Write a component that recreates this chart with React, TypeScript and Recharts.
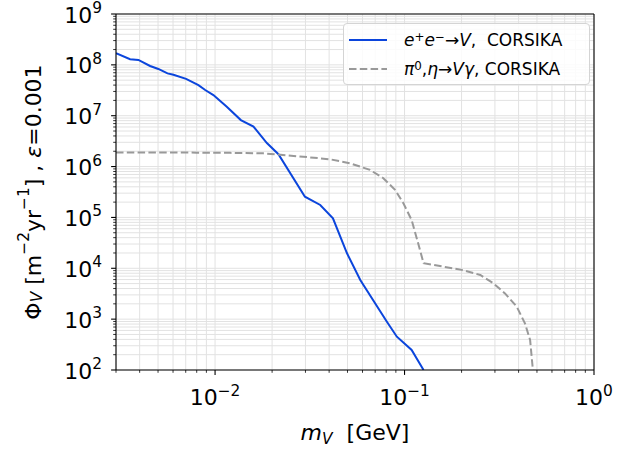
import { CartesianGrid, Line, LineChart, ReferenceLine, XAxis, YAxis } from "recharts";

// flux of dark vector V vs its mass, two CORSIKA production channels
document.body.style.margin = "0";

const eeMass = [
  0.003, 0.00356, 0.00394, 0.00454, 0.00502, 0.00561, 0.00603, 0.00703, 0.00817, 0.00887, 0.0098, 0.01153,
  0.01368, 0.01595, 0.01877, 0.0216, 0.0298, 0.0359, 0.0419, 0.0497, 0.0584, 0.0807, 0.0911, 0.109, 0.126,
];
const eeFlux = [
  1.69e8, 1.29e8, 1.25e8, 9.5e7, 8.3e7, 6.8e7, 6.4e7, 5.3e7, 4.0e7, 3.2e7, 2.55e7, 1.5e7, 8.2e6, 6.1e6, 2.9e6,
  1.75e6, 2.56e5, 1.76e5, 9.6e4, 1.97e4, 5.9e3, 890, 452, 248, 100,
];

const mesonMass = [
  0.003, 0.005, 0.008, 0.012, 0.018, 0.0292, 0.0405, 0.0516, 0.0657, 0.0773, 0.0891, 0.0986, 0.109, 0.118,
  0.126, 0.2, 0.251, 0.294, 0.339, 0.391, 0.432, 0.46, 0.475, 0.478,
];
const mesonFlux = [
  1.9e6, 1.9e6, 1.88e6, 1.86e6, 1.82e6, 1.56e6, 1.39e6, 1.16e6, 8.6e5, 5.9e5, 3.5e5, 1.9e5, 8.9e4, 3.1e4,
  1.26e4, 9.3e3, 7.4e3, 5.1e3, 3.2e3, 1.76e3, 828, 390, 107, 100,
];

const xDecades = [0.001, 0.01, 0.1];
const yDecades = [1e2, 1e3, 1e4, 1e5, 1e6, 1e7, 1e8];
const minorSteps = [1, 2, 3, 4, 5, 6, 7, 8, 9];

const xTicks = [
  ...xDecades.flatMap((d) => minorSteps.map((m) => Number((m * d).toPrecision(6)))).filter((v) => v >= 0.003),
  1,
];
const yTicks = [...yDecades.flatMap((d) => minorSteps.map((m) => Number((m * d).toPrecision(6)))), 1e9];

const eeData = eeMass.map((x, i) => ({ x, y: eeFlux[i] }));
const mesonData = mesonMass.map((x, i) => ({ x, y: mesonFlux[i] }));

const BLUE = "#0b45dc";
const GRAY = "#999999";
const FONT = "'DejaVu Sans', sans-serif";

function isMajor(v: number) {
  const l = Math.log10(v);
  return Math.abs(l - Math.round(l)) < 1e-6;
}

function expo(v: number) {
  const e = Math.round(Math.log10(v));
  return e < 0 ? `\u2212${-e}` : `${e}`;
}

function XTick(props: any) {
  const { x, y, payload } = props;
  const major = isMajor(payload.value);
  return (
    <g>
      <line x1={x} x2={x} y1={y} y2={y + (major ? 4.9 : 2.8)} stroke="#000" strokeWidth={major ? 1.1 : 0.8} />
      {major && (
        <text x={x} y={y + 35} textAnchor="middle" fontSize={22} fontFamily={FONT} fill="#000">
          10
          <tspan dy={-9.5} fontSize={15.4}>
            {expo(payload.value)}
          </tspan>
        </text>
      )}
    </g>
  );
}

function YTick(props: any) {
  const { x, y, payload } = props;
  const major = isMajor(payload.value);
  return (
    <g>
      <line x1={x - (major ? 4.9 : 2.8)} x2={x} y1={y} y2={y} stroke="#000" strokeWidth={major ? 1.1 : 0.8} />
      {major && (
        <text x={x - 14} y={y + 8.5} textAnchor="end" fontSize={22} fontFamily={FONT} fill="#000">
          10
          <tspan dy={-9.5} fontSize={15.4}>
            {expo(payload.value)}
          </tspan>
        </text>
      )}
    </g>
  );
}

function XLabel(props: any) {
  const { viewBox } = props;
  const cx = viewBox.x + viewBox.width / 2;
  return (
    <text x={cx} y={viewBox.y + 70} textAnchor="middle" fontSize={22} fontFamily={FONT} fill="#000">
      <tspan fontStyle="italic">m</tspan>
      <tspan fontStyle="italic" fontSize={15.4} dy={4}>
        V
      </tspan>
      <tspan dy={-4}>{"\u00a0\u00a0[GeV]"}</tspan>
    </text>
  );
}

function YLabel(props: any) {
  const { viewBox } = props;
  const cx = viewBox.x + 33;
  const cy = viewBox.y + viewBox.height / 2;
  return (
    <text
      x={cx}
      y={cy}
      transform={`rotate(-90 ${cx} ${cy})`}
      textAnchor="middle"
      dominantBaseline="central"
      fontSize={22}
      fontFamily={FONT}
      fill="#000"
    >
      {"\u03a6"}
      <tspan fontSize={15.4} fontStyle="italic" dy={4}>
        V
      </tspan>
      <tspan dy={-4}>{"\u00a0[m"}</tspan>
      <tspan fontSize={15.4} dy={-9}>
        {"\u22122"}
      </tspan>
      <tspan dy={9}>yr</tspan>
      <tspan fontSize={15.4} dy={-9}>
        {"\u22121"}
      </tspan>
      <tspan dy={9}>{"]\u00a0,\u00a0"}</tspan>
      <tspan fontStyle="italic">{"\u03b5"}</tspan>
      <tspan>=0.001</tspan>
    </text>
  );
}

const sup = { fontSize: "0.7em", verticalAlign: "0.45em", lineHeight: 0 } as const;

function LegendBox() {
  const row = { display: "flex", alignItems: "center", height: 29 } as const;
  return (
    <div
      style={{
        position: "absolute",
        left: 343,
        top: 23,
        width: 247,
        height: 62,
        boxSizing: "border-box",
        border: "1px solid #d4d4d4",
        borderRadius: 4,
        background: "rgba(255,255,255,0.85)",
        fontFamily: FONT,
        fontSize: 17,
        color: "#000",
        paddingTop: 1,
      }}
    >
      <div style={row}>
        <svg width={60} height={10} style={{ flex: "none" }}>
          <line x1={5} x2={43} y1={5} y2={5} stroke={BLUE} strokeWidth={2} />
        </svg>
        <span style={{ whiteSpace: "pre" }}>
          <i>e</i>
          <span style={sup}>+</span>
          <i>e</i>
          <span style={sup}>{"\u2212"}</span>
          {"\u2192"}
          <i>V</i>,{"  "}CORSIKA
        </span>
      </div>
      <div style={row}>
        <svg width={60} height={10} style={{ flex: "none" }}>
          <line x1={5} x2={43} y1={5} y2={5} stroke={GRAY} strokeWidth={2} strokeDasharray="7.5 3.3" />
        </svg>
        <span style={{ whiteSpace: "pre" }}>
          <i>{"\u03c0"}</i>
          <span style={sup}>0</span>,<i>{"\u03b7"}</i>
          {"\u2192"}
          <i>V{"\u03b3"}</i>, CORSIKA
        </span>
      </div>
    </div>
  );
}

export default function App() {
  return (
    <div style={{ position: "relative", width: 636, height: 453 }}>
      <LineChart width={636} height={453} margin={{ top: 14, right: 42, bottom: 0, left: 0 }}>
        <CartesianGrid stroke="#e2e2e2" strokeWidth={1} />
        <XAxis
          type="number"
          dataKey="x"
          scale="log"
          domain={[0.003, 1]}
          ticks={xTicks}
          interval={0}
          allowDataOverflow
          height={83}
          tickSize={0}
          tickMargin={0}
          tickLine={false}
          axisLine={{ stroke: "#000", strokeWidth: 1.1 }}
          tick={<XTick />}
          label={<XLabel />}
        />
        <YAxis
          type="number"
          dataKey="y"
          scale="log"
          domain={[100, 1e9]}
          ticks={yTicks}
          interval={0}
          allowDataOverflow
          width={116}
          tickSize={0}
          tickMargin={0}
          tickLine={false}
          axisLine={{ stroke: "#000", strokeWidth: 1.1 }}
          tick={<YTick />}
          label={<YLabel />}
        />
        <ReferenceLine y={1e9} stroke="#000" strokeWidth={1.1} />
        <ReferenceLine x={1} stroke="#000" strokeWidth={1.1} />
        <Line
          data={eeData}
          dataKey="y"
          type="linear"
          stroke={BLUE}
          strokeWidth={2}
          dot={false}
          isAnimationActive={false}
        />
        <Line
          data={mesonData}
          dataKey="y"
          type="linear"
          stroke={GRAY}
          strokeWidth={2}
          strokeDasharray="7.5 3.3"
          dot={false}
          isAnimationActive={false}
        />
      </LineChart>
      <LegendBox />
    </div>
  );
}
